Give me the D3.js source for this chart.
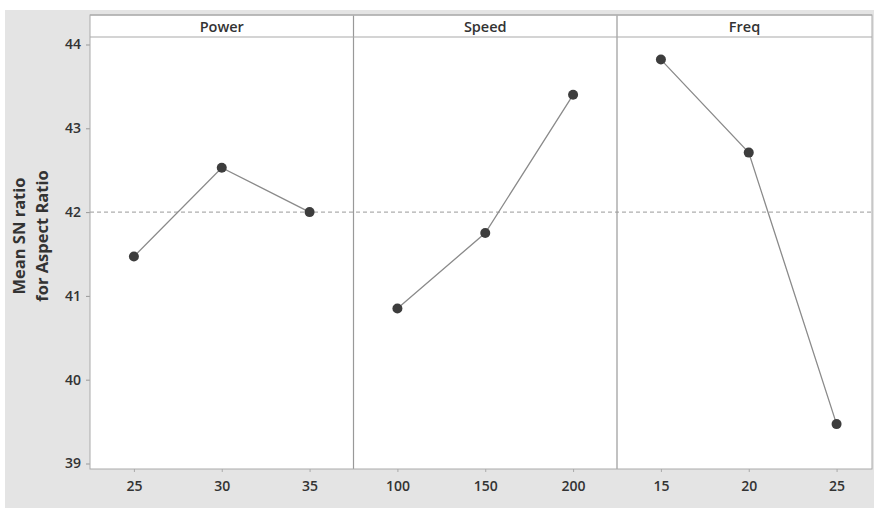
<!DOCTYPE html>
<html>
<head>
<meta charset="utf-8">
<script src="https://cdn.jsdelivr.net/npm/d3@7"></script>
<style>
body { margin:0; background:#fff; }
svg text { font-family: "Open Sans", "DejaVu Sans", sans-serif; fill:#333; }
</style>
</head>
<body>
<div id="graphZone"></div>
<script>
/************************************ Data *******************************/
var factors = ["Power", "Speed", "Freq"];
var powerLevels = ["25", "30", "35"];
var speedLevels = ["100", "150", "200"];
var freqLevels = ["15", "20", "25"];
var powerMeans = [41.47, 42.53, 42.00];
var speedMeans = [40.85, 41.75, 43.40];
var freqMeans = [43.82, 42.71, 39.47];
var yTicks = [39, 40, 41, 42, 43, 44];

var levels = [powerLevels, speedLevels, freqLevels];
var means = [powerMeans, speedMeans, freqMeans];
var grandMean = d3.mean([].concat(powerMeans, speedMeans, freqMeans));

/************************************ Layout *******************************/
// note: "top" is taken by window.top, so plotTop
var W = 874, H = 508;
var plotLeft = 90, plotRight = 872, plotTop = 15, stripH = 22, plotBottom = 469;
var panelW = 263.5;

var svg = d3.select("#graphZone").append("svg")
	.attr("width", W).attr("height", H);

// grey page
svg.append("rect").attr("x", 5).attr("y", 10).attr("width", W - 5).attr("height", H - 10)
	.attr("fill", "#e4e4e4");
svg.append("rect").attr("x", plotLeft).attr("y", plotTop).attr("width", plotRight - plotLeft).attr("height", plotBottom - plotTop)
	.attr("fill", "#fff");

var y = d3.scaleLinear().domain([39, 44]).range([463.5, 44.5]);
var panelX = d3.scaleBand().domain(factors).range([plotLeft, plotLeft + panelW * 3]);

/************************************ Axes *******************************/
var yAxis = svg.append("g").attr("transform", "translate(" + plotLeft + ",0)")
	.call(d3.axisLeft(y).tickValues(yTicks).tickFormat(d3.format("d")).tickSize(4).tickPadding(5));
yAxis.select(".domain").remove();
yAxis.selectAll("line").attr("stroke", "#999");
yAxis.selectAll("text").attr("font-size", 14).attr("font-weight", 600).attr("fill", "#333");

svg.append("text")
	.attr("transform", "translate(25,236) rotate(-90)")
	.attr("text-anchor", "middle").attr("font-size", 16.5).attr("font-weight", 700)
	.text("Mean SN ratio");
svg.append("text")
	.attr("transform", "translate(48,236) rotate(-90)")
	.attr("text-anchor", "middle").attr("font-size", 16.5).attr("font-weight", 700)
	.text("for Aspect Ratio");

// mean line
svg.append("line")
	.attr("x1", plotLeft).attr("x2", plotRight)
	.attr("y1", y(grandMean)).attr("y2", y(grandMean))
	.attr("stroke", "#999").attr("stroke-width", 1).attr("stroke-dasharray", "4,3");

/************************************ Panels *******************************/
factors.forEach(function(f, i) {
	var x0 = panelX(f);
	var x = d3.scalePoint().domain(levels[i]).range([x0, x0 + panelW]).padding(0.5);
	var g = svg.append("g");

	// strip
	var sx1 = Math.min(x0 + panelW, plotRight);
	g.append("text")
		.attr("x", (x0 + sx1) / 2).attr("y", plotTop + 17)
		.attr("text-anchor", "middle").attr("font-size", 14.5).attr("font-weight", 600)
		.text(f);

	if (i > 0) {
		g.append("line").attr("x1", x0).attr("x2", x0).attr("y1", plotTop).attr("y2", plotBottom)
			.attr("stroke", "#999").attr("stroke-width", 1.2);
	}

	var xAxis = g.append("g").attr("transform", "translate(0," + plotBottom + ")")
		.call(d3.axisBottom(x).tickSize(3).tickPadding(9));
	xAxis.select(".domain").remove();
	xAxis.selectAll("line").attr("stroke", "#aaa");
	xAxis.selectAll("text").attr("font-size", 14).attr("font-weight", 600).attr("fill", "#333");

	var pts = levels[i].map(function(l, j) { return [x(l), y(means[i][j])]; });
	g.append("path")
		.attr("d", d3.line()(pts))
		.attr("fill", "none").attr("stroke", "#8a8a8a").attr("stroke-width", 1.3);
	g.selectAll("circle").data(pts).enter().append("circle")
		.attr("cx", function(d) { return d[0]; })
		.attr("cy", function(d) { return d[1]; })
		.attr("r", 5)
		.attr("fill", "#3d3d3d");
});

// strip borders and frame
svg.append("line").attr("x1", plotLeft).attr("x2", plotRight).attr("y1", plotTop).attr("y2", plotTop)
	.attr("stroke", "#bbb").attr("stroke-width", 1.5);
svg.append("line").attr("x1", plotLeft).attr("x2", plotRight).attr("y1", plotTop + stripH).attr("y2", plotTop + stripH)
	.attr("stroke", "#aaa").attr("stroke-width", 1.2);
svg.append("rect").attr("x", plotLeft).attr("y", plotTop).attr("width", plotRight - plotLeft).attr("height", plotBottom - plotTop)
	.attr("fill", "none").attr("stroke", "#aaa").attr("stroke-width", 1);
</script>
</body>
</html>
